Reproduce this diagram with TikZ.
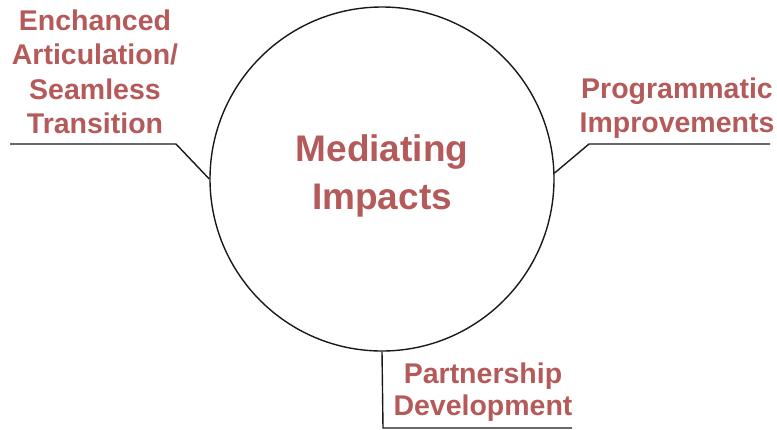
\documentclass[tikz,border=0pt]{standalone}
\usepackage{fontspec}
\setmainfont{Liberation Sans}
\definecolor{labred}{HTML}{B55A5A}
\begin{document}
\begin{tikzpicture}[x=1pt,y=-1pt,
  lbl/.style={text=labred,font=\bfseries\fontsize{28.5}{34.5}\selectfont,align=center,inner sep=0pt},
  conn/.style={draw=black!90,line width=1.4pt},
  ring/.style={circle,draw=black!90,line width=1.4pt,minimum size=344pt,inner sep=0pt}]
\useasboundingbox (0,0) rectangle (777,429);
\node[ring] (c) at (382,179) {};
\node[lbl,font=\bfseries\fontsize{37}{48}\selectfont] (mid) at (382,176) {Mediating\\Impacts};
\node[lbl] (lt) at (95,72) {Enchanced\\Articulation/\\Seamless\\Transition};
\node[lbl] (rt) at (677,108) {Programmatic\\Improvements};
\node[lbl,font=\bfseries\fontsize{28.5}{32}\selectfont] (bt) at (483,392) {Partnership\\Development};
\coordinate (l1) at (10,144);
\coordinate (l2) at (176,144);
\coordinate (r1) at (589,144);
\coordinate (r2) at (770,144);
\coordinate (b1) at (383,428);
\coordinate (b2) at (572,428);
\draw[conn] (l1) -- (l2) -- (c.180);
\draw[conn] (c.2) -- (r1) -- (r2);
\draw[conn] (c.270) -- (b1) -- (b2);
\end{tikzpicture}
\end{document}
